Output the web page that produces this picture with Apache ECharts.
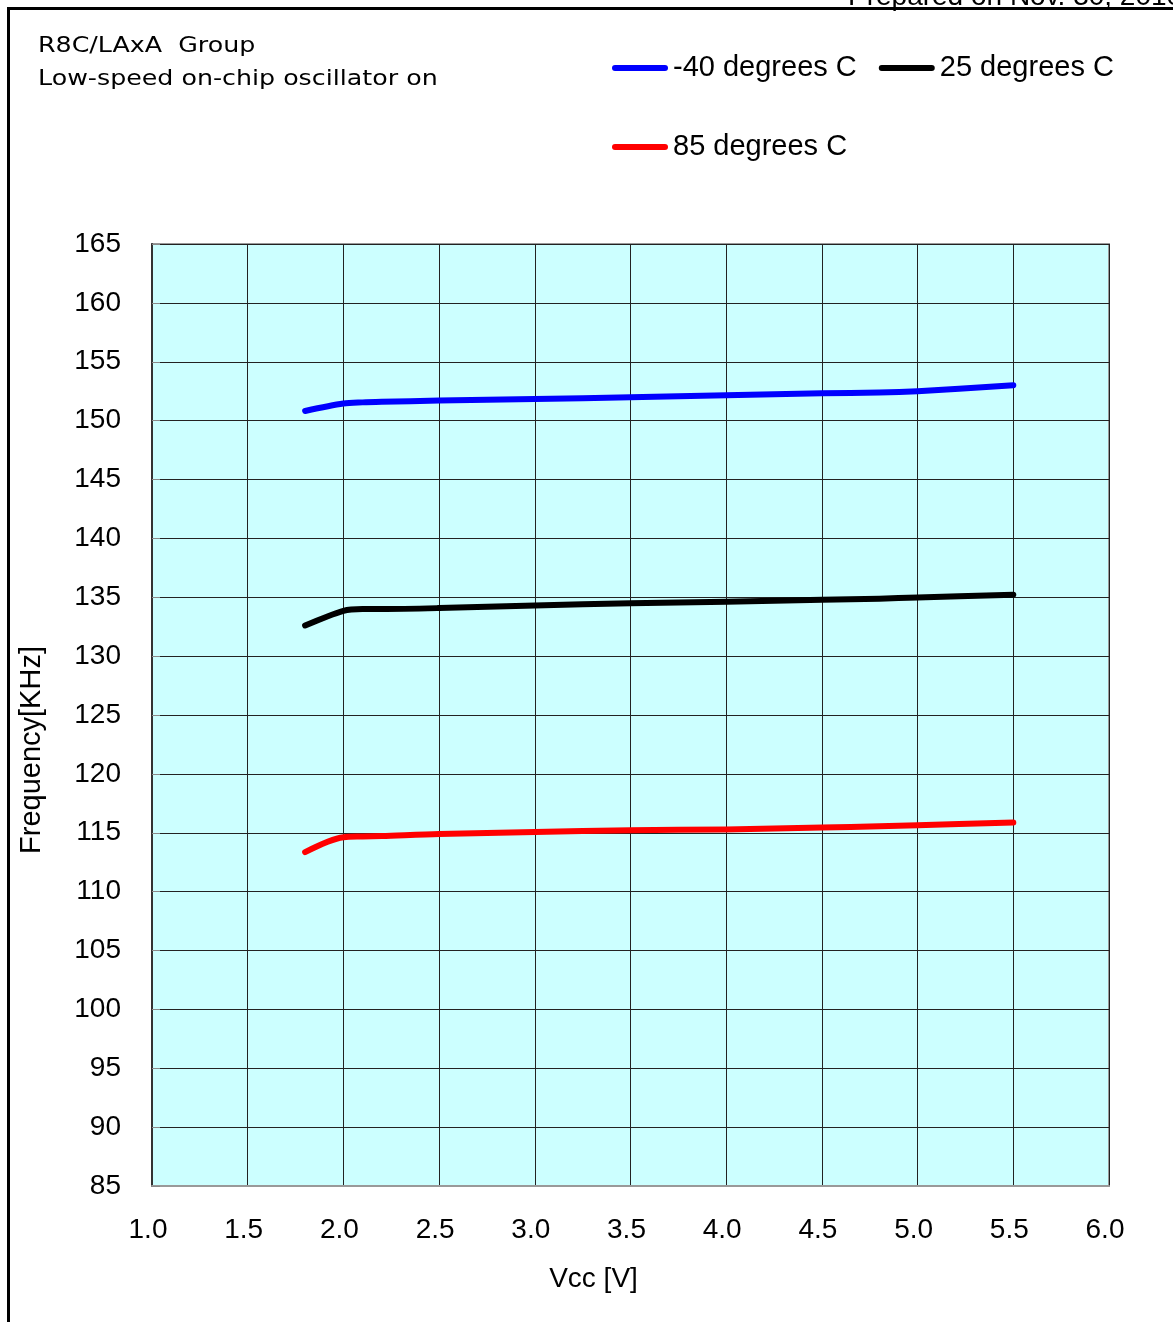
<!DOCTYPE html>
<html>
<head>
<meta charset="utf-8">
<script src="https://cdn.jsdelivr.net/npm/echarts@6/dist/echarts.min.js"></script>
<style>html,body{margin:0;padding:0;background:#fff;}#c{width:1173px;height:1322px;}</style>
</head>
<body>
<div id="c"></div>
<script>
var vcc = [1.8, 2.0, 2.1, 2.2, 2.5, 3.0, 3.5, 4.0, 4.5, 4.8, 5.0, 5.5];
var seriesNames = ['-40 degrees C', '25 degrees C', '85 degrees C'];
var freqM40 = [150.82, 151.45, 151.55, 151.6, 151.7, 151.84, 151.98, 152.15, 152.32, 152.38, 152.5, 153.0];
var freq25 = [132.6, 133.85, 134.0, 134.0, 134.08, 134.3, 134.5, 134.62, 134.78, 134.88, 134.98, 135.22];
var freq85 = [113.36, 114.62, 114.68, 114.72, 114.9, 115.06, 115.22, 115.28, 115.45, 115.55, 115.64, 115.87];
var xTicks = {min: 1.0, max: 6.0, interval: 0.5};
var yTicks = {min: 85, max: 165, interval: 5};
var titleLines = ['R8C/LAxA  Group', 'Low-speed on-chip oscillator on'];
var preparedText = 'Prepared on Nov. 30, 2010';

function pairs(ys) { return vcc.map(function (x, i) { return [x, ys[i]]; }); }

var chart = echarts.init(document.getElementById('c'));
var legendIcon = 'path://M3,0 L53,0 Q56,0 56,3 Q56,6 53,6 L3,6 Q0,6 0,3 Q0,0 3,0 Z';
var font = 'Liberation Sans, Arial, sans-serif';
var legendCommon = {
  orient: 'horizontal', left: 607, itemWidth: 56, itemHeight: 6, itemGap: 22,
  icon: legendIcon, selectedMode: false,
  textStyle: {fontFamily: font, fontSize: 29, color: '#000', lineHeight: 30}
};
var option = {
  animation: false,
  backgroundColor: '#fff',
  legend: [
    Object.assign({}, legendCommon, {top: 48, data: [seriesNames[0], seriesNames[1]]}),
    Object.assign({}, legendCommon, {top: 127, data: [seriesNames[2]]})
  ],
  grid: {left: 152, right: 64, top: 244, bottom: 136, show: true, backgroundColor: '#CCFFFF', borderColor: '#999', borderWidth: 2},
  xAxis: {
    type: 'value', min: xTicks.min, max: xTicks.max, interval: xTicks.interval,
    name: 'Vcc [V]', nameLocation: 'middle', nameGap: 79,
    nameTextStyle: {fontFamily: font, fontSize: 28, color: '#000', padding: [0, 74, 0, 0]},
    axisLine: {show: true, lineStyle: {color: '#999', width: 2}},
    axisTick: {show: false},
    axisLabel: {margin: 30, fontFamily: font, fontSize: 28, color: '#000', padding: [0, 8, 0, 0], formatter: function (v) { return v.toFixed(1); }},
    splitLine: {show: true, lineStyle: {color: '#222', width: 1}}
  },
  yAxis: {
    type: 'value', min: yTicks.min, max: yTicks.max, interval: yTicks.interval,
    name: 'Frequency[KHz]', nameLocation: 'middle', nameGap: 106,
    nameTextStyle: {fontFamily: font, fontSize: 29, color: '#000', padding: [0, 70, 0, 0]},
    axisLine: {show: true, lineStyle: {color: '#333', width: 2}},
    axisTick: {show: true, inside: true, length: 8, lineStyle: {color: '#888'}},
    axisLabel: {margin: 31, fontFamily: font, fontSize: 28, color: '#000', padding: [8, 0, 0, 0]},
    splitLine: {show: true, lineStyle: {color: '#222', width: 1}}
  },
  graphic: [
    {type: 'text', x: 38, y: 46, scaleX: 1.15, style: {text: titleLines[0], font: '22px "DejaVu Sans"', fill: '#000', verticalAlign: 'middle'}},
    {type: 'text', x: 38, y: 79, scaleX: 1.15, style: {text: titleLines[1], font: '22px "DejaVu Sans"', fill: '#000', verticalAlign: 'middle'}},
    {type: 'text', x: 848, y: 11, style: {text: preparedText, font: '28px Liberation Sans', fill: '#000', verticalAlign: 'bottom'}},
    {type: 'line', shape: {x1: 7, y1: 8.5, x2: 1173, y2: 8.5}, style: {stroke: '#000', lineWidth: 3}},
    {type: 'line', shape: {x1: 8.5, y1: 7, x2: 8.5, y2: 1322}, style: {stroke: '#000', lineWidth: 3}}
  ],
  series: [
    {name: seriesNames[0], type: 'line', data: pairs(freqM40), smooth: 0.3, showSymbol: false, color: '#0000FF', lineStyle: {width: 6, cap: 'round', join: 'round'}},
    {name: seriesNames[1], type: 'line', data: pairs(freq25), smooth: 0.3, showSymbol: false, color: '#000000', lineStyle: {width: 6, cap: 'round', join: 'round'}},
    {name: seriesNames[2], type: 'line', data: pairs(freq85), smooth: 0.3, showSymbol: false, color: '#FF0000', lineStyle: {width: 6, cap: 'round', join: 'round'}}
  ]
};
chart.setOption(option);
</script>
</body>
</html>
